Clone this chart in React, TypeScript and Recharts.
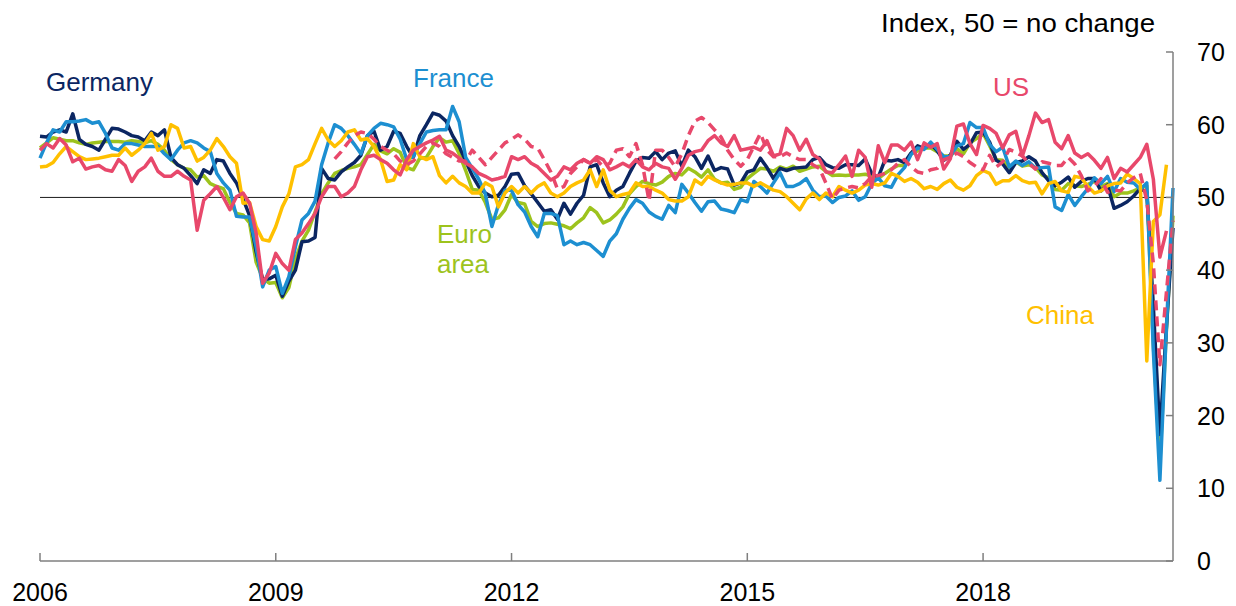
import React from 'react';
import { LineChart, Line, XAxis, YAxis, ReferenceLine } from 'recharts';

// Monthly composite PMIs, Jan 2006 (index 0) .. Jun 2020 (index 173)
const startYear = 2006;
const monthCount = 174;

const yearTicks = [0, 36, 72, 108, 144];
const yearLabels = ['2006', '2009', '2012', '2015', '2018'];
const valueTicks = [0, 10, 20, 30, 40, 50, 60, 70];

const germany = [
  58.4, 58.3, 59.0, 59.3, 59.0, 61.5, 58.0, 57.3, 57.0, 56.5, 58.0, 59.5,
  59.4, 59.0, 58.5, 58.3, 57.8, 59.0, 58.5, 59.3, 55.5, 54.5, 54.0, 53.0,
  51.9, 53.8, 53.3, 55.2, 55.0, 53.3, 52.0, 49.8, 47.5, 42.5, 38.7, 38.8,
  39.3, 36.4, 38.5, 40.0, 43.9, 44.0, 44.5, 54.0, 52.6, 52.4, 53.5, 54.2,
  54.8, 55.8, 58.5, 59.1, 56.5, 57.0, 59.1, 58.8, 57.0, 55.5, 58.5, 60.0,
  61.6, 61.3, 60.5, 58.5, 57.0, 55.0, 53.0, 51.5, 50.6, 50.1, 50.3, 51.5,
  53.2, 53.3, 51.6, 50.5, 49.3, 48.1, 48.3, 47.0, 49.2, 47.7, 49.2, 50.3,
  54.2, 54.5, 52.0, 50.1, 51.0, 51.5, 53.3, 55.0, 55.5, 55.4, 56.3, 55.2,
  56.1, 56.4, 54.3, 56.5, 55.6, 54.0, 55.7, 53.7, 54.1, 53.9, 51.7, 52.0,
  53.5, 53.8, 55.4, 54.1, 52.6, 54.0, 53.7, 54.0, 54.1, 54.2, 55.2, 55.5,
  54.5, 54.1, 54.0, 54.5, 54.5, 54.4, 55.3, 53.3, 52.8, 55.1, 55.0, 55.2,
  54.8, 56.1, 57.1, 56.7, 57.4, 56.4, 55.1, 55.8, 57.7, 56.6, 57.3, 58.9,
  59.0, 57.6, 55.1, 54.6, 53.4, 54.8, 55.0, 55.6, 55.0, 53.4, 52.3, 51.6,
  52.1, 52.8, 51.4, 52.2, 52.6, 52.6, 50.9, 51.7, 48.5, 48.9, 49.4, 50.2,
  51.2, 50.7, 35.0, 17.4, 32.3, 45.8,
];

const france = [
  55.4, 57.5, 59.3, 59.0, 60.4, 60.4, 60.5, 60.7, 60.2, 60.4, 58.8, 56.8,
  56.5, 57.4, 57.4, 57.2, 57.0, 57.0, 57.0, 56.0, 55.2, 56.5, 57.5, 57.8,
  57.5, 56.8, 56.3, 53.3, 52.0, 51.0, 47.4, 47.3, 47.3, 43.2, 37.7, 40.0,
  40.5, 36.8, 39.1, 43.2, 46.9, 47.8, 49.5, 54.5, 57.5, 60.0, 59.5, 58.5,
  57.3, 56.0, 58.5, 59.5, 60.2, 60.0, 59.7, 58.0, 55.2, 55.6, 57.4, 59.0,
  59.2, 59.3, 59.3, 62.5, 60.4, 55.5, 54.0, 52.5, 50.5, 46.0, 49.0, 51.0,
  51.0, 49.0, 48.0, 46.0, 44.6, 47.8, 47.8, 47.5, 43.5, 44.0, 43.5, 43.8,
  43.5, 42.7, 41.9, 44.0, 45.0, 47.0, 48.5, 49.7, 49.2, 48.0, 47.4, 47.0,
  48.9, 47.9, 51.8, 50.6, 49.3, 48.1, 49.4, 49.5, 48.4, 48.2, 47.9, 49.7,
  49.4, 52.2, 51.5, 50.6, 52.0, 53.4, 51.5, 51.5, 51.9, 52.6, 51.0, 50.1,
  50.2, 49.3, 50.0, 50.2, 50.9, 49.6, 50.1, 51.9, 52.7, 51.6, 51.4, 53.1,
  54.1, 55.9, 56.8, 56.6, 57.6, 56.6, 55.6, 55.6, 57.1, 57.4, 60.3, 59.6,
  59.6, 57.3, 56.3, 56.9, 54.2, 55.0, 54.4, 54.9, 54.0, 54.1, 54.2, 48.7,
  48.2, 50.4, 48.9, 50.1, 51.2, 52.7, 51.9, 52.9, 50.8, 52.6, 52.1, 52.0,
  51.1, 52.0, 28.9, 11.1, 32.1, 51.3,
];

const euroArea = [
  56.8, 57.5, 58.2, 58.0, 57.8, 57.8, 57.5, 57.3, 57.5, 57.6, 57.7, 57.7,
  57.7, 57.6, 57.8, 57.7, 57.5, 57.8, 57.3, 56.5, 55.2, 54.5, 54.0, 53.8,
  52.8, 53.0, 51.9, 51.5, 51.2, 49.3, 47.8, 47.6, 46.5, 41.1, 38.9, 38.2,
  38.3, 36.2, 37.6, 41.5, 44.0, 45.5, 48.0, 50.5, 52.0, 53.3, 53.7, 54.0,
  54.2, 54.5, 55.9, 57.3, 56.4, 56.0, 56.7, 56.2, 54.1, 53.8, 55.4, 55.5,
  57.0, 58.2, 57.6, 57.8, 56.0, 53.7, 51.1, 51.0, 49.3, 47.0, 47.2, 48.3,
  50.4, 49.3, 49.1, 46.7, 46.0, 46.4, 46.5, 46.3, 46.1, 45.7, 46.5, 47.2,
  48.6, 47.9, 46.5, 46.9, 47.7, 48.7, 50.5, 51.5, 52.2, 51.9, 51.7, 52.1,
  52.9, 53.3, 53.1, 54.0, 53.5, 52.8, 53.8, 52.5, 52.0, 52.1, 51.1, 51.4,
  52.6, 53.3, 54.0, 53.9, 53.6, 54.2, 53.9, 54.3, 53.6, 53.9, 54.2, 54.3,
  53.6, 53.0, 53.1, 53.0, 53.1, 53.1, 53.2, 52.9, 52.6, 53.3, 53.9, 54.4,
  54.4, 56.0, 56.4, 56.8, 56.8, 56.3, 55.7, 55.7, 56.7, 56.0, 57.5, 58.1,
  58.8, 57.1, 55.2, 55.1, 54.1, 54.9, 54.3, 54.5, 54.1, 53.1, 52.7, 51.1,
  51.0, 51.9, 51.6, 51.5, 51.8, 52.2, 51.5, 51.9, 50.1, 50.6, 50.6, 50.9,
  51.3, 51.6, 29.7, 13.6, 31.9, 47.5,
];

const china = [
  54.2, 54.3, 54.8, 56.0, 57.0, 56.3, 55.6, 55.2, 55.3, 55.4, 55.6, 55.8,
  55.8, 56.8, 55.8, 56.5, 57.4, 58.8, 56.5, 57.0, 60.0, 59.5, 56.8, 57.0,
  55.0, 55.5, 56.5, 58.1, 57.0, 55.6, 54.7, 49.2, 49.3, 46.0, 44.2, 44.0,
  46.0, 48.7, 50.5, 54.2, 54.5, 55.2, 57.4, 59.5, 57.9, 57.0, 57.8, 59.0,
  59.3, 57.9, 58.1, 57.0, 55.2, 52.2, 52.4, 54.5, 53.8, 57.4, 55.6, 55.2,
  55.6, 53.0, 52.0, 52.9, 52.0, 51.5, 50.6, 50.6, 52.0, 51.5, 48.7, 50.6,
  51.5, 50.6, 51.5, 50.6, 51.5, 52.0, 50.6, 50.1, 50.6, 51.5, 52.0, 52.4,
  53.8, 51.5, 53.8, 51.0, 50.1, 50.4, 50.6, 52.0, 51.5, 51.5, 51.0, 50.6,
  49.7, 49.5, 49.5, 50.1, 52.4, 51.8, 52.9, 52.4, 52.0, 51.7, 51.8, 52.0,
  52.0, 51.5, 52.0, 51.5, 51.0, 50.8, 50.1, 49.2, 48.3, 49.8, 50.6, 49.7,
  50.6, 50.1, 51.5, 51.0, 50.6, 51.0, 51.7, 51.9, 51.7, 52.0, 53.3, 52.9,
  52.2, 52.6, 52.1, 51.2, 51.5, 51.1, 51.9, 52.4, 51.4, 51.0, 51.6, 53.0,
  53.7, 53.3, 51.8, 52.3, 52.3, 53.0, 52.3, 52.0, 52.1, 50.5, 51.9, 52.2,
  50.9, 50.7, 52.9, 52.7, 51.5, 50.6, 50.9, 51.6, 51.9, 52.0, 53.2, 52.6,
  51.9, 27.5, 46.7, 47.6, 54.5, null,
];

const usIsm = [
  56.5, 57.4, 56.8, 58.1, 57.2, 54.9, 55.4, 53.9, 54.2, 54.4, 53.8, 53.6,
  55.2, 54.4, 52.2, 53.6, 54.2, 55.4, 53.6, 52.9, 52.9, 53.6, 52.9, 52.4,
  45.5, 49.6, 50.5, 51.5, 50.0, 48.3, 50.1, 50.6, 49.2, 45.1, 38.2, 39.6,
  42.3, 40.9, 40.0, 44.2, 45.1, 46.4, 47.8, 50.1, 51.5, 51.5, 50.1, 50.6,
  51.5, 53.8, 55.6, 55.8, 55.2, 54.7, 53.8, 53.1, 55.2, 56.5, 57.0, 57.5,
  57.9, 58.4, 56.5, 56.1, 55.4, 54.7, 54.2, 53.3, 52.9, 52.4, 52.6, 52.9,
  55.6, 55.2, 55.6, 54.7, 54.2, 53.3, 52.4, 52.9, 54.2, 53.8, 54.7, 55.2,
  54.7, 55.6, 55.2, 53.8, 54.2, 54.7, 54.2, 55.2, 54.2, 53.8, 54.7, 54.2,
  54.0, 52.5, 54.0, 55.8, 56.3, 56.5, 57.8, 58.5, 57.5, 57.0, 58.5, 56.5,
  56.7, 56.9, 56.5, 57.8, 55.7, 56.0, 59.5, 58.5, 56.5, 58.0, 55.9, 55.3,
  53.5, 53.4, 54.5, 55.7, 52.9, 56.5, 55.5, 51.4, 57.1, 54.8, 57.2, 57.2,
  56.5, 57.6, 55.2, 57.5, 56.9, 57.4, 53.9, 55.3, 59.8, 60.1, 57.4, 55.9,
  59.9, 59.5, 58.8, 56.8, 58.6, 59.1, 55.7, 58.5, 61.6, 60.3, 60.7, 57.6,
  56.7, 58.5, 56.1, 55.5, 56.0, 55.1, 54.0, 55.5, 52.6, 54.0, 53.5, 54.5,
  55.5, 57.3, 52.5, 41.8, 45.4, null,
];

const usComposite = [
  null, null, null, null, null, null, null, null, null, null, null, null,
  null, null, null, null, null, null, null, null, null, null, null, null,
  null, null, null, null, null, null, null, null, null, null, null, null,
  null, null, null, null, null, null, null, null, null, 55.3, 56.3, 57.5,
  58.5, 59.0, 58.8, 58.0, 57.0, 56.5, 56.0, 55.0, 54.5, 55.0, 56.0, 57.0,
  57.5, 57.0, 56.0, 55.5, 55.0, 55.0, 56.5, 55.5, 54.5, 55.5, 56.5, 57.5,
  58.0, 58.6, 58.0, 57.0, 56.8, 55.2, 53.5, 51.2, 51.5, 53.3, 54.2, 55.2,
  54.7, 55.2, 54.2, 54.7, 56.5, 56.7, 55.6, 57.4, 54.5, 49.5, 56.5, 56.5,
  55.5, 54.2, 56.0, 58.5, 60.5, 61.0, 60.3, 59.3, 58.3, 56.5, 55.2, 54.3,
  55.2, 57.0, 58.8, 56.5, 55.6, 55.6, 56.1, 55.6, 55.2, 55.2, 54.5, 54.0,
  52.0, 49.8, 51.0, 51.3, 51.5, 51.3, 51.9, 52.9, 53.0, 53.3, 53.8, 54.7,
  55.2, 54.2, 53.5, 53.3, 53.8, 54.0, 55.2, 55.5, 56.1, 55.6, 54.8, 54.2,
  53.8, 55.8, 54.2, 54.9, 56.6, 56.2, 55.7, 54.7, 53.9, 54.9, 54.7, 54.4,
  54.4, 55.5, 54.6, 53.0, 50.9, 51.5, 52.6, 50.7, 51.0, 50.9, 52.0, 52.7,
  53.3, 49.6, 40.9, 27.0, 37.0, 46.8,
];

const rows = Array.from({ length: monthCount }, (_, i) => ({
  m: i,
  date: `${startYear + Math.floor(i / 12)}-${String((i % 12) + 1).padStart(2, '0')}`,
  germany: germany[i],
  france: france[i],
  euroArea: euroArea[i],
  china: china[i],
  usIsm: usIsm[i],
  usComposite: usComposite[i],
}));

const FONT = 'Arial, "Liberation Sans", Helvetica, sans-serif';
const AXIS = '#7f7f7f';

const C = {
  germany: '#0b2662',
  france: '#1d8fd1',
  euro: '#9dc31d',
  china: '#ffc000',
  us: '#e8486b',
};

const XTick = (props: any) => {
  const { x, y, payload } = props;
  const idx = yearTicks.indexOf(payload.value);
  return (
    <g>
      <line x1={x} x2={x} y1={y - 8} y2={y} stroke={AXIS} strokeWidth={1.5} />
      <text x={x} y={y + 40} textAnchor="middle" fontSize={25} fontFamily={FONT} fill="#000">
        {idx >= 0 ? yearLabels[idx] : ''}
      </text>
    </g>
  );
};

const YTick = (props: any) => {
  const { x, y, payload } = props;
  return (
    <g>
      <line x1={x - 7} x2={x} y1={y} y2={y} stroke={AXIS} strokeWidth={1.5} />
      <text x={x + 24} y={y + 9} textAnchor="start" fontSize={25} fontFamily={FONT} fill="#000">
        {payload.value}
      </text>
    </g>
  );
};

export default function App() {
  return (
    <div style={{ position: 'absolute', left: 0, top: 0, width: 1236, height: 606, background: '#fff' }}>
      <LineChart
        width={1236}
        height={606}
        data={rows}
        margin={{ top: 52, right: 0, bottom: 0, left: 40 }}
      >
        <XAxis
          dataKey="m"
          type="number"
          domain={[0, monthCount - 1]}
          ticks={yearTicks}
          interval={0}
          height={45}
          tickLine={false}
          tickSize={0}
          tickMargin={0}
          axisLine={{ stroke: AXIS, strokeWidth: 1.5 }}
          tick={<XTick />}
        />
        <YAxis
          orientation="right"
          domain={[0, 70]}
          ticks={valueTicks}
          interval={0}
          width={63}
          tickLine={false}
          tickSize={0}
          tickMargin={0}
          axisLine={{ stroke: AXIS, strokeWidth: 1.5 }}
          tick={<YTick />}
        />
        <ReferenceLine y={50} stroke="#1a1a1a" strokeWidth={1} />
        <Line type="linear" dataKey="euroArea" stroke={C.euro} strokeWidth={3.5} dot={false} isAnimationActive={false} strokeLinejoin="round" />
        <Line type="linear" dataKey="germany" stroke={C.germany} strokeWidth={3.5} dot={false} isAnimationActive={false} strokeLinejoin="round" />
        <Line type="linear" dataKey="france" stroke={C.france} strokeWidth={3.5} dot={false} isAnimationActive={false} strokeLinejoin="round" />
        <Line type="linear" dataKey="china" stroke={C.china} strokeWidth={3.5} dot={false} isAnimationActive={false} strokeLinejoin="round" />
        <Line type="linear" dataKey="usComposite" stroke={C.us} strokeWidth={3.5} strokeDasharray="10 6" dot={false} isAnimationActive={false} strokeLinejoin="round" />
        <Line type="linear" dataKey="usIsm" stroke={C.us} strokeWidth={3.5} dot={false} isAnimationActive={false} strokeLinejoin="round" />
      </LineChart>
      <svg width={1236} height={606} style={{ position: 'absolute', left: 0, top: 0, pointerEvents: 'none' }}>
        <g fontFamily={FONT} fontSize={26}>
          <text x={881} y={32} fill="#000" textLength={274} lengthAdjust="spacingAndGlyphs">Index, 50 = no change</text>
          <text x={46} y={91} fill={C.germany}>Germany</text>
          <text x={413} y={87} fill={C.france}>France</text>
          <text x={437} y={243} fill={C.euro}>Euro</text>
          <text x={437} y={273} fill={C.euro}>area</text>
          <text x={993} y={96} fill={C.us}>US</text>
          <text x={1026} y={324} fill={C.china}>China</text>
        </g>
      </svg>
    </div>
  );
}
